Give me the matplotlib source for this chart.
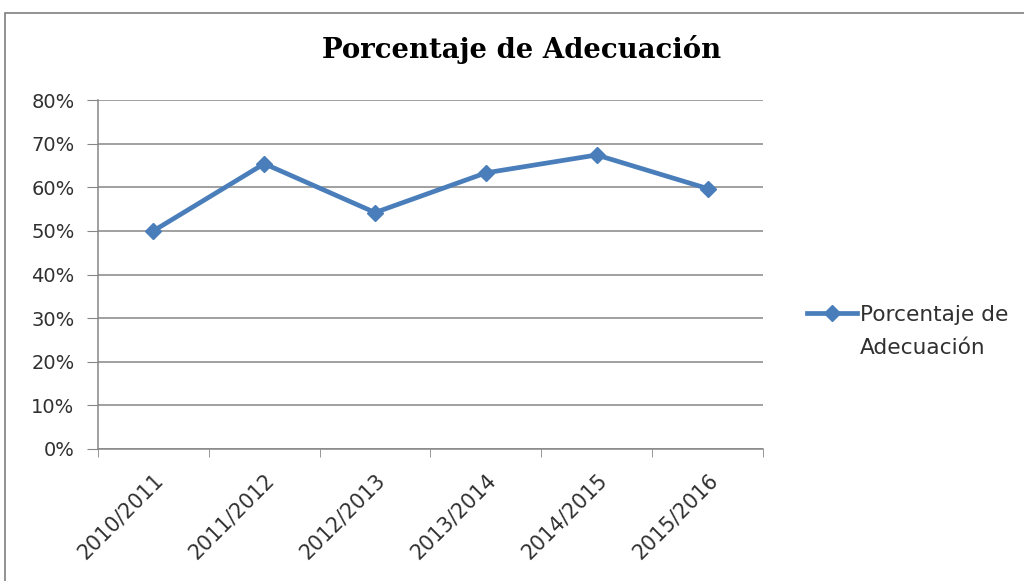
import matplotlib
matplotlib.use("Agg")
import matplotlib.pyplot as plt
from matplotlib.ticker import FixedLocator, PercentFormatter
from matplotlib.lines import Line2D
from matplotlib.patches import Rectangle

categories = ["2010/2011", "2011/2012", "2012/2013", "2013/2014", "2014/2015", "2015/2016"]
values = [0.50, 0.654, 0.542, 0.633, 0.674, 0.597]
series_name_1 = "Porcentaje de"
series_name_2 = "Adecuación"
title = "Porcentaje de Adecuación"

line_color = "#4A7EBB"
grid_color = "#868686"
text_color = "#303030"
font = "DejaVu Sans"

fig = plt.figure(figsize=(10.24, 5.81), dpi=100)
fig.patches.append(Rectangle((5/1024, -0.1), 1.2, (581-13)/581 + 0.1, transform=fig.transFigure,
                             fill=False, edgecolor="#7f7f7f", linewidth=1.2))

ax = fig.add_axes([98/1024, (581-449)/581, (763-98)/1024, (449-100)/581])
x = list(range(1, len(categories) + 1))
ax.plot(x, values, color=line_color, linewidth=3.4, marker="D", markersize=8.5,
        markerfacecolor=line_color, markeredgecolor=line_color)
ax.set_xlim(0.5, len(categories) + 0.5)
ax.set_ylim(0, 0.8)
ax.set_yticks([i / 10 for i in range(9)])
ax.yaxis.set_major_formatter(PercentFormatter(1.0, decimals=0))
ax.set_xticks(x)
ax.set_xticklabels(categories, rotation=45, ha="right", rotation_mode="anchor", fontsize=14.8,
                   family=font, color=text_color)
ax.xaxis.set_minor_locator(FixedLocator([i + 0.5 for i in range(len(categories) + 1)]))
ax.tick_params(axis="x", which="major", length=0, pad=15)
ax.tick_params(axis="x", which="minor", length=5.5, color=grid_color, direction="out")
ax.tick_params(axis="y", length=8, color=grid_color, labelsize=14.0, pad=9, labelcolor=text_color)
for lab in ax.get_yticklabels():
    lab.set_family(font)
ax.grid(axis="y", color=grid_color, linewidth=1.1)
ax.set_axisbelow(True)
for s in ["top", "right"]:
    ax.spines[s].set_visible(False)
for s in ["left", "bottom"]:
    ax.spines[s].set_color(grid_color)
    ax.spines[s].set_linewidth(1.1)

fig.text(522/1024, 1 - 50/581, title, ha="center", va="center", fontsize=19.8,
         fontweight="bold", family="DejaVu Serif")

handle = Line2D([], [], color=line_color, linewidth=3.4, marker="D", markersize=8.5)
leg = fig.legend([handle], [series_name_1], loc="center left", bbox_to_anchor=(798/1024, 1 - 315/581),
                 frameon=False, prop={"family": font, "size": 15.6}, handlelength=2.3,
                 handletextpad=0.15, borderaxespad=0)
for t in leg.get_texts():
    t.set_color(text_color)
fig.text(860/1024, 1 - 348/581, series_name_2, ha="left", va="center", fontsize=15.6,
         family=font, color=text_color)

fig.savefig("out.png", dpi=100)
